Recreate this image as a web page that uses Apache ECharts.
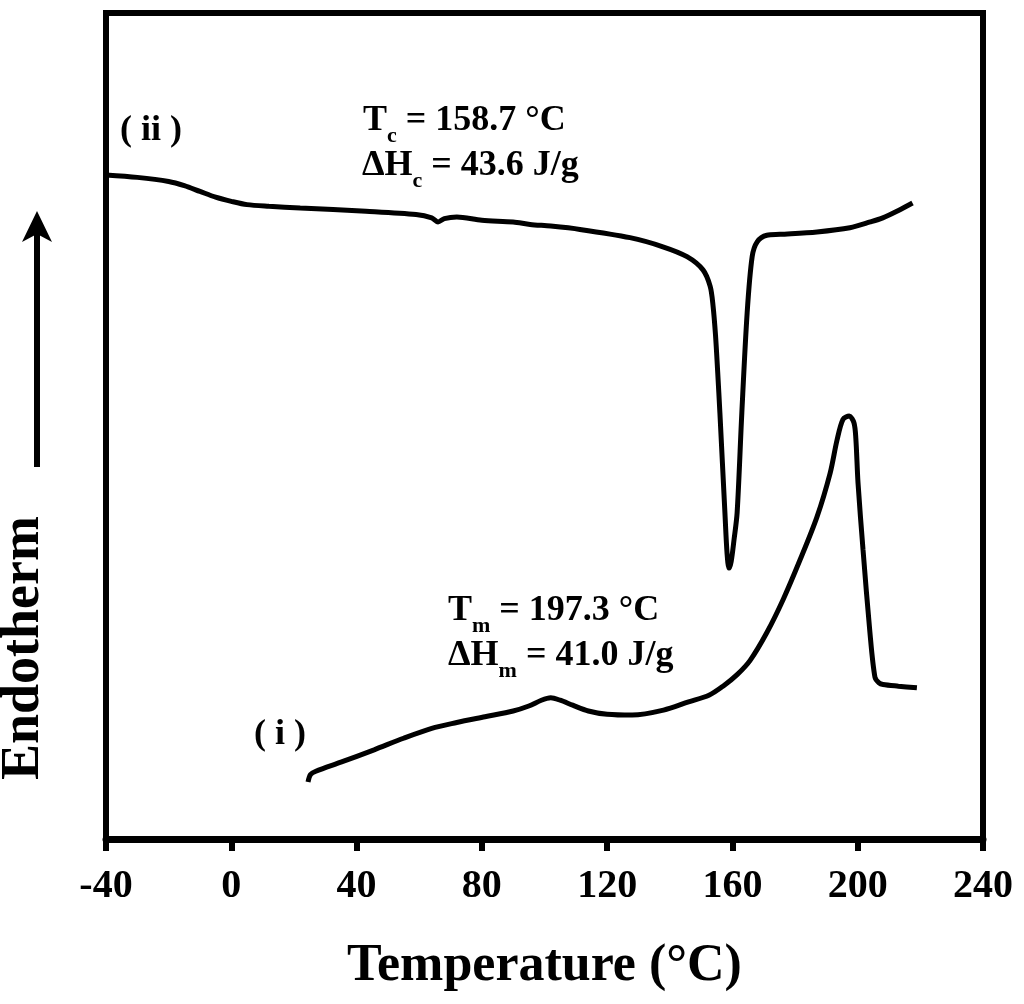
<!DOCTYPE html>
<html>
<head>
<meta charset="utf-8">
<script src="https://cdn.jsdelivr.net/npm/echarts@6/dist/echarts.min.js"></script>
<style>
  html, body { margin: 0; padding: 0; background: #fff; }
  #chart { width: 1024px; height: 1004px; }
</style>
</head>
<body>
<div id="chart"></div>
<script>
// temperature ticks (deg C)
const xTicks = [-40, 0, 40, 80, 120, 160, 200, 240]

// curve (ii): cooling scan, arbitrary heat-flow units (endotherm up)
const tempII = [-40, -30, -20, -15, -10, -5, 0, 5, 12, 22, 43, 59, 64, 66, 68, 72, 80, 90, 95.4, 102, 111.3,
  127.3, 137.8, 145.5, 150.6, 152.9, 153.8, 154.6, 155.3, 156, 157.6, 158.3, 158.9, 159.6, 160.5, 161.5,
  163, 164.7, 166.3, 167.9, 171, 175.2, 187, 197.5, 204, 208, 213, 217.5]
const heatII = [80.4, 80.1, 79.6, 79.1, 78.4, 77.7, 77.2, 76.8, 76.6, 76.4, 76.0, 75.6, 75.2, 74.7, 75.1, 75.3, 74.9, 74.7, 74.4, 74.2, 73.8,
  72.8, 71.7, 70.5, 68.9, 66.9, 64.6, 61.0, 56.5, 51.6, 39.5, 34.5, 32.8, 33.6, 36.2, 39.5,
  51.6, 63.7, 70.5, 72.3, 73.1, 73.2, 73.5, 74.0, 74.7, 75.2, 76.1, 77.0]

// curve (i): heating scan
const tempI = [24.5, 25.3, 27, 35, 45.6, 55, 64, 72, 81, 90, 95, 99, 102, 105, 109, 114, 120, 128, 138,
  146, 152.5, 157, 161.5, 165.6, 171, 176.2, 181.6, 187, 191.2, 193.4, 195.3, 197.3, 198.8, 199.4,
  200.1, 201.7, 203.9, 205.5, 206.8, 208.1, 213, 218.9]
const heatI = [6.9, 7.8, 8.2, 9.3, 10.8, 12.2, 13.4, 14.1, 14.8, 15.5, 16.1, 16.8, 17.1, 16.8, 16.2, 15.5, 15.1, 15.0, 15.6,
  16.6, 17.4, 18.5, 19.9, 21.6, 25.0, 29.0, 33.8, 39.0, 44.3, 48.3, 50.8, 51.2, 50.4, 48.5,
  43.1, 35.0, 25.0, 19.6, 18.9, 18.7, 18.5, 18.3]

const serif = 'Liberation Serif'

const zip = (xs, ys) => xs.map((x, i) => [x, ys[i]])

// rich styles for the annotations (subscripts pushed down)
const rich = {
  m: { fontSize: 36, fontWeight: 'bold', fontFamily: serif, color: '#000', verticalAlign: 'bottom', lineHeight: 40, padding: [0, 0, 8, 0] },
  s: { fontSize: 22, fontWeight: 'bold', fontFamily: serif, color: '#000', verticalAlign: 'bottom', lineHeight: 24 }
}

function note (left, top, text) {
  return { type: 'text', left: left, top: top, style: { text: text, rich: rich } }
}

const myChart = echarts.init(document.getElementById('chart'))

const option = {
  animation: false,
  backgroundColor: '#fff',
  grid: {
    left: 106,
    right: 41,
    top: 13,
    bottom: 165,
    show: true,
    borderColor: '#000',
    borderWidth: 6
  },
  xAxis: {
    type: 'value',
    min: xTicks[0],
    max: xTicks[xTicks.length - 1],
    interval: 40,
    name: 'Temperature (°C)',
    nameLocation: 'middle',
    nameGap: 102,
    nameTextStyle: { fontSize: 52, fontWeight: 'bold', fontFamily: serif, color: '#000' },
    axisLine: { lineStyle: { color: '#000', width: 7 } },
    axisTick: { length: 12, lineStyle: { color: '#000', width: 6 } },
    axisLabel: { fontSize: 40, fontWeight: 'bold', fontFamily: serif, color: '#000', margin: 28 },
    splitLine: { show: false }
  },
  yAxis: {
    type: 'value',
    min: 0,
    max: 100,
    axisLine: { show: false },
    axisTick: { show: false },
    axisLabel: { show: false },
    splitLine: { show: false }
  },
  series: [
    {
      name: '(ii)',
      type: 'line',
      data: zip(tempII, heatII),
      showSymbol: false,
      smooth: 0.3,
      lineStyle: { color: '#000', width: 5 }
    },
    {
      name: '(i)',
      type: 'line',
      data: zip(tempI, heatI),
      showSymbol: false,
      smooth: 0.3,
      lineStyle: { color: '#000', width: 5 }
    }
  ],
  graphic: [
    note(120, 113, '{m|( ii )}'),
    note(363, 103, '{m|T}{s|c}{m| = 158.7 °C}'),
    note(362, 148, '{m|ΔH}{s|c}{m| = 43.6 J/g}'),
    note(448, 593, '{m|T}{s|m}{m| = 197.3 °C}'),
    note(448, 638, '{m|ΔH}{s|m}{m| = 41.0 J/g}'),
    note(254, 717, '{m|( i )}'),
    {
      type: 'text',
      x: 24,
      y: 648,
      rotation: Math.PI / 2,
      style: { text: 'Endotherm', fontSize: 54, fontWeight: 'bold', fontFamily: serif, fill: '#000', align: 'center', verticalAlign: 'middle' }
    },
    {
      type: 'line',
      shape: { x1: 37, y1: 467, x2: 37, y2: 232 },
      style: { stroke: '#000', lineWidth: 6 }
    },
    {
      type: 'polygon',
      shape: { points: [[37, 211], [22, 242], [37, 234], [52, 242]] },
      style: { fill: '#000' }
    }
  ]
}

myChart.setOption(option)
</script>
</body>
</html>
